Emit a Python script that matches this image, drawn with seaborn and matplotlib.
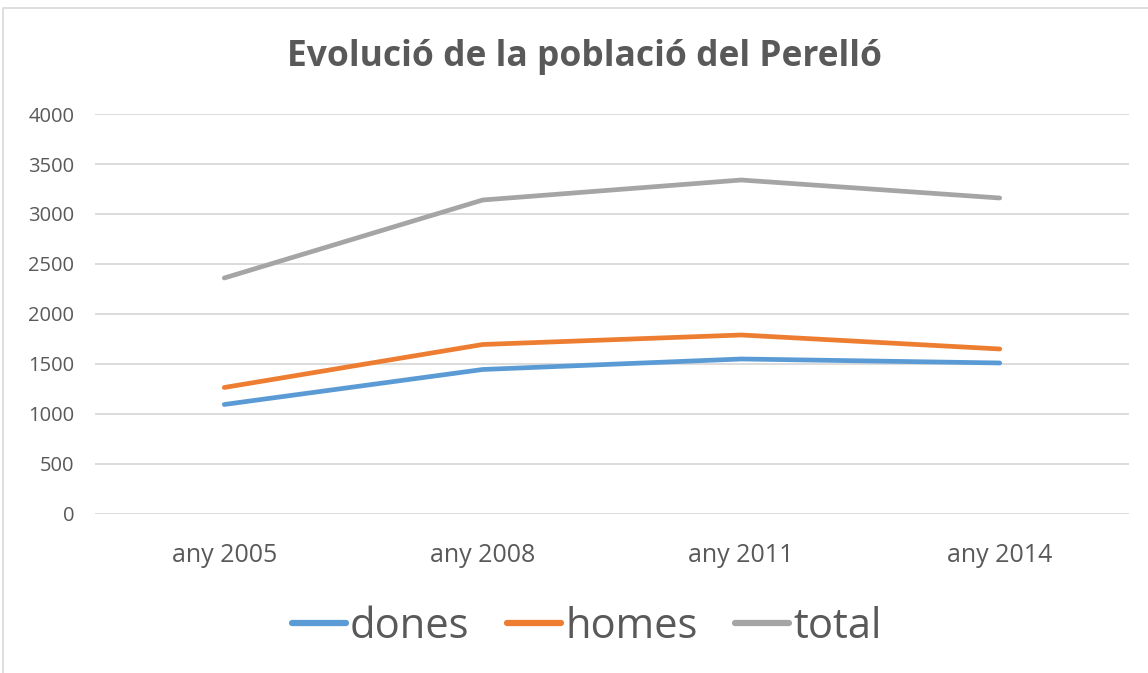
import pandas as pd
import seaborn as sns
import matplotlib.pyplot as plt
from matplotlib.patches import Rectangle

# Data
years = ["any 2005", "any 2008", "any 2011", "any 2014"]
dones = [1095, 1445, 1550, 1510]
homes = [1265, 1695, 1790, 1650]
total = [2360, 3140, 3340, 3160]

df = pd.DataFrame({
    "any": years * 3,
    "valor": dones + homes + total,
    "serie": ["dones"] * 4 + ["homes"] * 4 + ["total"] * 4,
})

sns.set_theme(style="white")
plt.rcParams["font.family"] = ["Open Sans", "DejaVu Sans"]

palette = {"dones": "#5B9BD5", "homes": "#ED7D31", "total": "#A5A5A5"}
text_color = "#595959"

fig = plt.figure(figsize=(11.48, 6.73), dpi=100)
ax = fig.add_axes([0.0828, 0.2363, 0.9006, 0.5943])

sns.lineplot(data=df, x="any", y="valor", hue="serie", palette=palette,
             linewidth=3.4, sort=False, ax=ax, legend=True)
for line in ax.get_lines():
    line.set_solid_capstyle("round")

ax.set_xlim(-0.5, 3.5)
ax.set_ylim(0, 4000)
ax.set_yticks(range(0, 4001, 500))
ax.yaxis.grid(True, color="#D9D9D9", linewidth=1.3)
ax.set_axisbelow(True)
for s in ax.spines.values():
    s.set_visible(False)
ax.tick_params(axis="both", length=0, colors=text_color)
ax.tick_params(axis="x", pad=21, labelsize=18)
ax.tick_params(axis="y", pad=15, labelsize=14.5)
ax.set_xlabel("")
ax.set_ylabel("")

fig.text(0.509, 0.915, "Evolució de la població del Perelló", ha="center", va="center",
         fontsize=25.5, fontweight="bold", color=text_color)

handles, labels = ax.get_legend_handles_labels()
ax.legend(handles, labels, loc="center", bbox_to_anchor=(0.511, 0.0685),
          bbox_transform=fig.transFigure, ncol=3, frameon=False,
          fontsize=30, handlelength=1.3, handletextpad=0.1, columnspacing=0.9,
          labelcolor=text_color)
for lh in ax.get_legend().get_lines():
    lh.set_linewidth(4.5)

# outer chart border
fig.patches.append(Rectangle((0.003, -0.01), 1.2, 0.998, transform=fig.transFigure,
                             fill=False, edgecolor="#D9D9D9", linewidth=1.2))

plt.savefig("out.png", dpi=100, facecolor="white")
